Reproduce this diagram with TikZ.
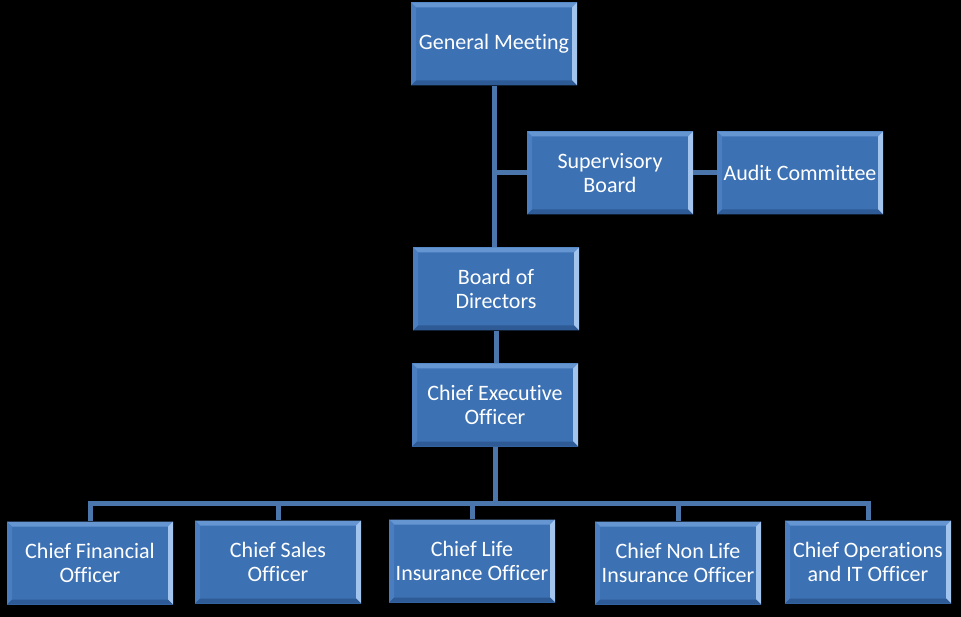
\documentclass[tikz,border=0pt]{standalone}
\usepackage{fontspec}
\setmainfont{Carlito}[Ligatures=NoCommon]

\definecolor{boxblue}{HTML}{3C71B4}
\definecolor{bevtop}{HTML}{6596D2}
\definecolor{bevright}{HTML}{A3C4EC}
\definecolor{bevleft}{HTML}{4B7EC0}
\definecolor{bevbottom}{HTML}{2E5B96}
\definecolor{linkblue}{HTML}{4A76AC}

\begin{document}
\begin{tikzpicture}[
  x=1pt, y=-1pt,
  link/.style={draw=linkblue, line width=5pt},
  orgbox/.style={
    fill=boxblue,
    text=white,
    align=center,
    inner sep=0pt,
    minimum width=166pt,
    minimum height=83pt,
    font=\fontsize{22}{24.5}\selectfont,
    path picture={
      \fill[bevtop] (path picture bounding box.north west) -- (path picture bounding box.north east)
        -- ([shift={(-5pt,-5pt)}]path picture bounding box.north east)
        -- ([shift={(5pt,-5pt)}]path picture bounding box.north west) -- cycle;
      \fill[bevright] (path picture bounding box.north east) -- (path picture bounding box.south east)
        -- ([shift={(-5pt,5pt)}]path picture bounding box.south east)
        -- ([shift={(-5pt,-5pt)}]path picture bounding box.north east) -- cycle;
      \fill[bevleft] (path picture bounding box.north west) -- (path picture bounding box.south west)
        -- ([shift={(5pt,5pt)}]path picture bounding box.south west)
        -- ([shift={(5pt,-5pt)}]path picture bounding box.north west) -- cycle;
      \fill[bevbottom] (path picture bounding box.south west) -- (path picture bounding box.south east)
        -- ([shift={(-5pt,5pt)}]path picture bounding box.south east)
        -- ([shift={(5pt,5pt)}]path picture bounding box.south west) -- cycle;
    }
  }
]

% -------------------------------------------------
% Background
% -------------------------------------------------
\fill[black] (0,0) rectangle (961,617);
\useasboundingbox (0,0) rectangle (961,617);

% -------------------------------------------------
% Row y-positions
% -------------------------------------------------
\def\yA{44}
\def\yB{173}
\def\yC{289}
\def\yD{405}
\def\yE{562}
\def\yBus{503}

% -------------------------------------------------
% TOP LEVELS
% -------------------------------------------------
\node[orgbox] (gm)  at (494,\yA) {General Meeting};
\node[orgbox] (sb)  at (610,\yB) {Supervisory\\Board};
\node[orgbox] (ac)  at (800,\yB) {Audit Committee};
\node[orgbox] (bod) at (496,\yC) {Board of\\Directors};
\node[orgbox] (ceo) at (495,\yD) {Chief Executive\\Officer};

% -------------------------------------------------
% OFFICERS
% -------------------------------------------------
\node[orgbox] (cfo) at (90,\yE+1)  {Chief Financial\\Officer};
\node[orgbox] (cso) at (278,\yE)   {Chief Sales\\Officer};
\node[orgbox] (clo) at (472,\yE-1) {Chief Life\\Insurance Officer};
\node[orgbox] (cno) at (678,\yE+1) {Chief Non Life\\Insurance Officer};
\node[orgbox] (coo) at (868,\yE)   {Chief Operations\\and IT Officer};

% -------------------------------------------------
% CONNECTORS
% -------------------------------------------------
\coordinate (bus) at (495,\yBus);

% trunk and side branch
\draw[link] (gm.south) -- (gm.south |- bod.north);
\draw[link] (sb.west) -- (sb.west -| gm.south);
\draw[link] (sb.east) -- (ac.west);
\draw[link] (bod.south) -- (bod.south |- ceo.north);

% CEO -> officers
\draw[link] (ceo.south) -- (bus);
\draw[link] (cfo.north) |- (bus) -| (coo.north);
\foreach \n in {cso,clo,cno}
  \draw[link] (\n.north) -- (\n.north |- bus);

\end{tikzpicture}
\end{document}
